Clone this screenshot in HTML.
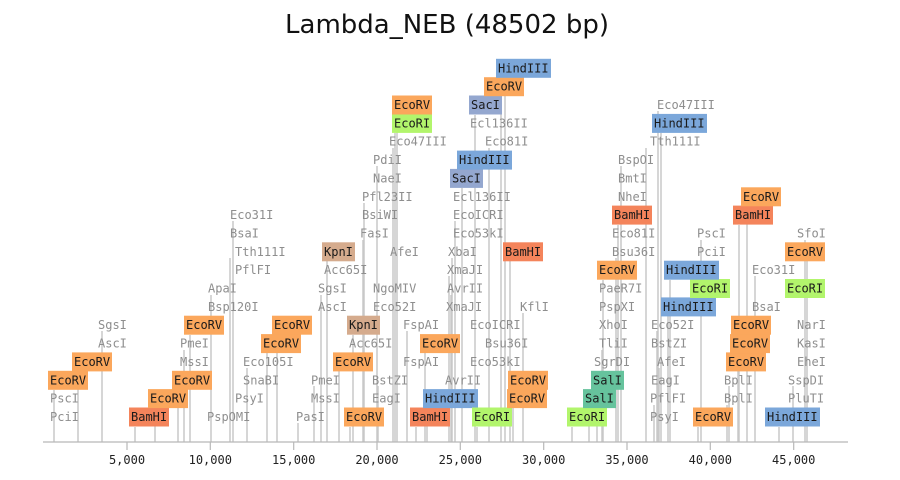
<!DOCTYPE html>
<html><head><meta charset="utf-8"><style>
html,body{margin:0;padding:0;background:#fff;}
svg{display:block;}
.g{fill:#8e8e8e;}
.t{fill:#1a1a1a;}
text{font-family:"DejaVu Sans Mono","Liberation Mono",monospace;font-size:12px;}
.rv{fill:#fba75c;} .bh{fill:#f4845b;} .hd{fill:#7ba7da;} .ri{fill:#b2f56c;} .sc{fill:#94a7cf;} .kp{fill:#d5ab8d;} .sl{fill:#66c39d;}
</style></head><body>
<svg width="900" height="480" viewBox="0 0 900 480" xmlns="http://www.w3.org/2000/svg">
<rect width="900" height="480" fill="#fff"/>
<text x="447" y="33" text-anchor="middle" style="font-family:'DejaVu Sans','Liberation Sans',sans-serif;font-size:26px;fill:#111">Lambda_NEB (48502 bp)</text>
<path fill="none" stroke="#c8c8c8" stroke-width="1.5" d="M54 442V390M78 442V371M102 442V331M135 442V427M155 442V408M178 442V390M184 442V350M190 442V335M211 442V295M233 442V221M230 442V258M247 442V368M267 442V353M277 442V335M298 442V423M314 442V386M321 442V295M327 442V261M339 442V371M350 442V427M353 442V335M363 442V240M364 442V203M377 442V166M378 442V386M393 442V148M395 442V133M397 442V115M407 442V331M416 442V427M425 442V353M427 442V408M452 442V258M449 442V276M451 442V295M455 442V221M462 442V188M489 442V148M475 442V115M477 442V427M505 442V78M501 442V96M510 442V261M513 442V390M523 442V313M572 442V427M589 442V408M597 442V390M603 442V280M602 442V350M616 442V258M618 442V225M621 442V166M646 442V148M661 442V133M658 442V111M654 442V405M657 442V331M659 442V368M668 442V316M670 442V280M701 442V240M698 442V427M727 442V405M729 442V386M738 442V353M747 442V206M739 442V225M755 442V276M779 442V427M793 442V386M805 442V240M807 442V261"/>
<path fill="none" stroke="#b8b8b8" stroke-width="1.2" d="M43 442H848M127 442V450M210.3 442V450M293.7 442V450M377 442V450M460.3 442V450M543.7 442V450M627 442V450M710.3 442V450M793.7 442V450"/>
<g style="font-size:12.5px;fill:#222" text-anchor="middle">
<text x="127" y="464">5,000</text><text x="210.3" y="464">10,000</text><text x="293.7" y="464">15,000</text><text x="377" y="464">20,000</text><text x="460.3" y="464">25,000</text><text x="543.7" y="464">30,000</text><text x="627" y="464">35,000</text><text x="710.3" y="464">40,000</text><text x="793.7" y="464">45,000</text>
</g>
<rect class="rv" x="48" y="370.8" width="40" height="19"/>
<rect class="rv" x="72" y="352.4" width="40" height="19"/>
<rect class="bh" x="129" y="407.5" width="40" height="19"/>
<rect class="rv" x="148" y="389.1" width="40" height="19"/>
<rect class="rv" x="172" y="370.8" width="40" height="19"/>
<rect class="rv" x="184" y="315.7" width="40" height="19"/>
<rect class="rv" x="261" y="334.1" width="40" height="19"/>
<rect class="rv" x="272" y="315.7" width="40" height="19"/>
<rect class="kp" x="322" y="242.3" width="33" height="19"/>
<rect class="rv" x="333" y="352.4" width="40" height="19"/>
<rect class="rv" x="344" y="407.5" width="40" height="19"/>
<rect class="kp" x="347" y="315.7" width="33" height="19"/>
<rect class="ri" x="392" y="113.9" width="40" height="19"/>
<rect class="rv" x="392" y="95.5" width="40" height="19"/>
<rect class="bh" x="410" y="407.5" width="40" height="19"/>
<rect class="rv" x="420" y="334.1" width="40" height="19"/>
<rect class="hd" x="423" y="389.1" width="55" height="19"/>
<rect class="sc" x="450" y="168.9" width="33" height="19"/>
<rect class="hd" x="457" y="150.6" width="55" height="19"/>
<rect class="sc" x="469" y="95.5" width="33" height="19"/>
<rect class="ri" x="472" y="407.5" width="40" height="19"/>
<rect class="rv" x="484" y="77.2" width="40" height="19"/>
<rect class="hd" x="496" y="58.8" width="55" height="19"/>
<rect class="bh" x="503" y="242.3" width="40" height="19"/>
<rect class="rv" x="508" y="370.8" width="40" height="19"/>
<rect class="rv" x="507" y="389.1" width="40" height="19"/>
<rect class="ri" x="567" y="407.5" width="40" height="19"/>
<rect class="sl" x="583" y="389.1" width="33" height="19"/>
<rect class="sl" x="591" y="370.8" width="33" height="19"/>
<rect class="rv" x="597" y="260.7" width="40" height="19"/>
<rect class="bh" x="612" y="205.6" width="40" height="19"/>
<rect class="hd" x="652" y="113.9" width="55" height="19"/>
<rect class="hd" x="661" y="297.4" width="55" height="19"/>
<rect class="ri" x="690" y="279" width="40" height="19"/>
<rect class="hd" x="664" y="260.7" width="55" height="19"/>
<rect class="rv" x="693" y="407.5" width="40" height="19"/>
<rect class="rv" x="726" y="352.4" width="40" height="19"/>
<rect class="rv" x="730" y="334.1" width="40" height="19"/>
<rect class="rv" x="731" y="315.7" width="40" height="19"/>
<rect class="bh" x="733" y="205.6" width="40" height="19"/>
<rect class="rv" x="741" y="187.3" width="40" height="19"/>
<rect class="hd" x="765" y="407.5" width="55" height="19"/>
<rect class="ri" x="785" y="279" width="40" height="19"/>
<rect class="rv" x="785" y="242.3" width="40" height="19"/>
<g class="t">
<text x="50" y="384.3">EcoRV</text><text x="74" y="365.9">EcoRV</text><text x="131" y="421">BamHI</text><text x="150" y="402.6">EcoRV</text><text x="174" y="384.3">EcoRV</text><text x="186" y="329.2">EcoRV</text><text x="263" y="347.6">EcoRV</text><text x="274" y="329.2">EcoRV</text>
<text x="324" y="255.8">KpnI</text><text x="335" y="365.9">EcoRV</text><text x="346" y="421">EcoRV</text><text x="349" y="329.2">KpnI</text><text x="394" y="127.4">EcoRI</text><text x="394" y="109">EcoRV</text><text x="412" y="421">BamHI</text><text x="422" y="347.6">EcoRV</text><text x="425" y="402.6">HindIII</text>
<text x="452" y="182.4">SacI</text><text x="459" y="164.1">HindIII</text><text x="471" y="109">SacI</text><text x="474" y="421">EcoRI</text><text x="486" y="90.7">EcoRV</text><text x="498" y="72.3">HindIII</text><text x="505" y="255.8">BamHI</text><text x="510" y="384.3">EcoRV</text><text x="509" y="402.6">EcoRV</text>
<text x="569" y="421">EcoRI</text><text x="585" y="402.6">SalI</text><text x="593" y="384.3">SalI</text><text x="599" y="274.2">EcoRV</text><text x="614" y="219.1">BamHI</text><text x="654" y="127.4">HindIII</text><text x="663" y="310.9">HindIII</text><text x="692" y="292.5">EcoRI</text><text x="666" y="274.2">HindIII</text><text x="695" y="421">EcoRV</text>
<text x="728" y="365.9">EcoRV</text><text x="732" y="347.6">EcoRV</text><text x="733" y="329.2">EcoRV</text><text x="735" y="219.1">BamHI</text><text x="743" y="200.8">EcoRV</text><text x="767" y="421">HindIII</text><text x="787" y="292.5">EcoRI</text><text x="787" y="255.8">EcoRV</text>
</g>
<g class="g">
<text x="50" y="421">PciI</text><text x="50" y="402.6">PscI</text><text x="98" y="329.2">SgsI</text><text x="98" y="347.6">AscI</text><text x="180" y="347.6">PmeI</text><text x="180" y="365.9">MssI</text>
<text x="208" y="292.5">ApaI</text><text x="208" y="310.9">Bsp120I</text><text x="207" y="421">PspOMI</text><text x="230" y="219.1">Eco31I</text><text x="230" y="237.5">BsaI</text><text x="235" y="255.8">Tth111I</text><text x="235" y="274.2">PflFI</text>
<text x="243" y="365.9">Eco105I</text><text x="243" y="384.3">SnaBI</text><text x="235" y="402.6">PsyI</text><text x="296" y="421">PasI</text>
<text x="311" y="402.6">MssI</text><text x="311" y="384.3">PmeI</text><text x="318" y="292.5">SgsI</text><text x="318" y="310.9">AscI</text><text x="324" y="274.2">Acc65I</text><text x="349" y="347.6">Acc65I</text>
<text x="360" y="237.5">FasI</text><text x="362" y="200.8">Pfl23II</text><text x="362" y="219.1">BsiWI</text><text x="373" y="164.1">PdiI</text><text x="373" y="182.4">NaeI</text><text x="373" y="292.5">NgoMIV</text><text x="373" y="310.9">Eco52I</text><text x="372" y="384.3">BstZI</text><text x="372" y="402.6">EagI</text>
<text x="389" y="145.7">Eco47III</text><text x="390" y="255.8">AfeI</text><text x="403" y="329.2">FspAI</text><text x="403" y="365.9">FspAI</text>
<text x="448" y="255.8">XbaI</text><text x="447" y="274.2">XmaJI</text><text x="447" y="292.5">AvrII</text><text x="446" y="310.9">XmaJI</text><text x="445" y="384.3">AvrII</text>
<text x="453" y="200.8">Ecl136II</text><text x="453" y="219.1">EcoICRI</text><text x="453" y="237.5">Eco53kI</text><text x="470" y="127.4">Ecl136II</text><text x="470" y="329.2">EcoICRI</text><text x="470" y="365.9">Eco53kI</text><text x="485" y="145.7">Eco81I</text><text x="485" y="347.6">Bsu36I</text><text x="520" y="310.9">KflI</text>
<text x="594" y="365.9">SgrDI</text><text x="599" y="347.6">TliI</text><text x="599" y="329.2">XhoI</text><text x="599" y="310.9">PspXI</text><text x="599" y="292.5">PaeR7I</text>
<text x="612" y="255.8">Bsu36I</text><text x="612" y="237.5">Eco81I</text><text x="618" y="200.8">NheI</text><text x="618" y="182.4">BmtI</text><text x="618" y="164.1">BspOI</text>
<text x="650" y="145.7">Tth111I</text><text x="657" y="109">Eco47III</text>
<text x="650" y="421">PsyI</text><text x="650" y="402.6">PflFI</text><text x="651" y="384.3">EagI</text><text x="657" y="365.9">AfeI</text><text x="651" y="347.6">BstZI</text><text x="651" y="329.2">Eco52I</text>
<text x="697" y="255.8">PciI</text><text x="697" y="237.5">PscI</text><text x="724" y="402.6">BplI</text><text x="724" y="384.3">BplI</text><text x="752" y="310.9">BsaI</text><text x="752" y="274.2">Eco31I</text>
<text x="788" y="402.6">PluTI</text><text x="788" y="384.3">SspDI</text><text x="797" y="365.9">EheI</text><text x="797" y="347.6">KasI</text><text x="797" y="329.2">NarI</text><text x="797" y="237.5">SfoI</text>
</g>
</svg>
</body></html>
